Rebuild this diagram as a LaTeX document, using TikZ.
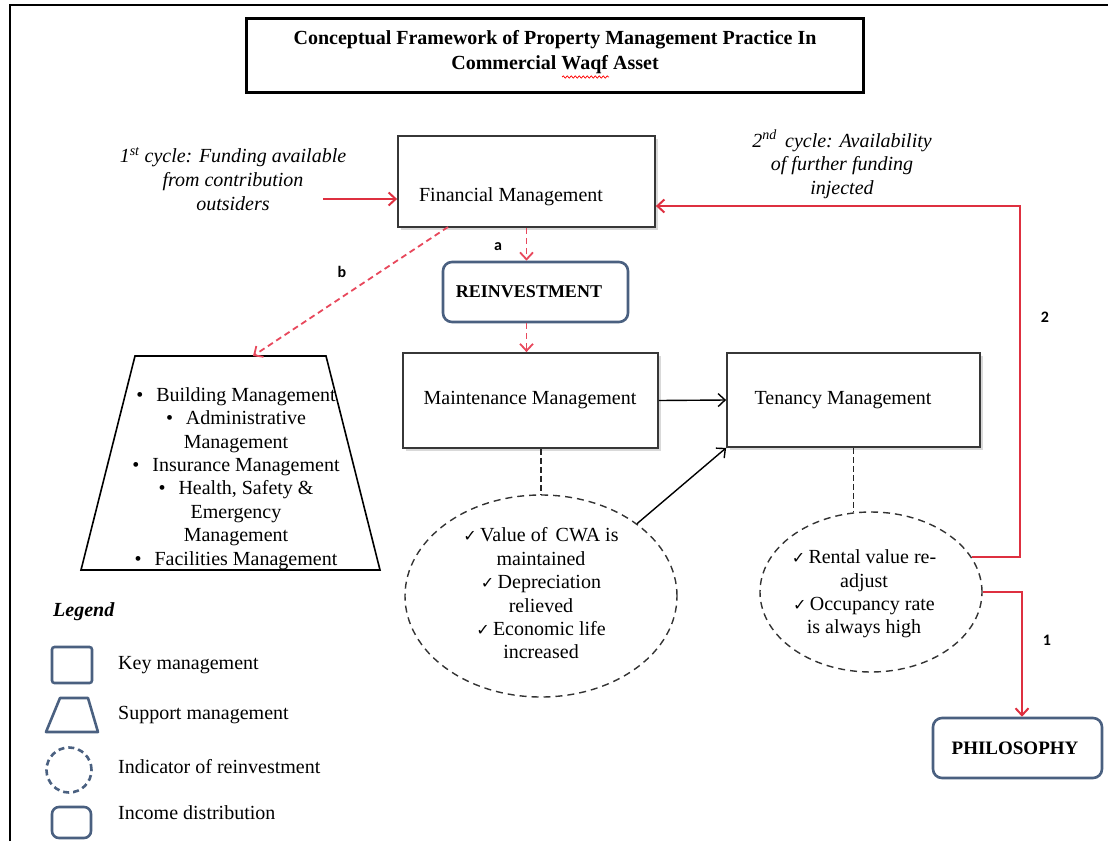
\documentclass[tikz,border=0pt]{standalone}
\usepackage{fontspec}
\setmainfont{Liberation Serif}
\newfontfamily\labelfont{Carlito}
\newfontfamily\symfont{DejaVu Sans}
\usetikzlibrary{arrows.meta,shapes.geometric,shadows,decorations.pathmorphing}

\definecolor{flowred}{RGB}{222,48,64}
\definecolor{dashred}{RGB}{232,72,92}
\definecolor{slate}{RGB}{74,96,128}
\definecolor{boxline}{RGB}{55,55,55}

\newcommand{\tick}{{\symfont\fontsize{16}{16}\selectfont ✓}\,}

\begin{document}
\begin{tikzpicture}[x=1pt,y=-1pt,
  txt/.style={font=\fontsize{20}{23.4}\selectfont, inner sep=0pt, align=center},
  boldtxt/.style={font=\bfseries\fontsize{18}{18}\selectfont, inner sep=0pt},
  tag/.style={font=\labelfont\bfseries\fontsize{16}{16}\selectfont, inner sep=0pt},
  keybox/.style={draw=boxline, line width=1.8pt, fill=white, inner sep=0pt,
    drop shadow={opacity=0.3, shadow xshift=2.5pt, shadow yshift=-2.5pt}},
  roundbox/.style={draw=slate, line width=2.6pt, rounded corners=9pt, fill=white, inner sep=0pt},
  indicator/.style={ellipse, draw=black!80, line width=1.4pt, dash pattern=on 7pt off 5pt, inner sep=0pt},
  link/.style={draw=black!85, line width=1.2pt, dash pattern=on 6pt off 3pt},
  flow/.style={draw=flowred, line width=2pt, -{Straight Barb[length=7pt,width=13pt]}},
  dflow/.style={draw=dashred, line width=1.8pt, dash pattern=on 6pt off 4pt, -{Straight Barb[length=7pt,width=13pt]}},
  blackflow/.style={draw=black, line width=1.4pt, -{Straight Barb[length=7pt,width=13pt]}},
  legendtxt/.style={font=\fontsize{20}{20}\selectfont, inner sep=0pt, anchor=west}
]
\useasboundingbox (0,0) rectangle (1108,841);

% outer frame (left and top edges)
\draw[line width=2.2pt] (10,841) -- (10,5) -- (1108,5);

% title
\node[draw, line width=3pt, minimum width=617pt, minimum height=74pt, inner sep=0pt] (title) at (554.5,55) {};
\node[txt, font=\bfseries\fontsize{20}{25}\selectfont] (titletext) at (555,52)
  {Conceptual Framework of Property Management Practice In\\Commercial Waqf Asset};
\draw[red, line width=0.7pt, decorate, decoration={snake, amplitude=1.1pt, segment length=4pt}] (562,77) -- (609,77);

% key management boxes
\node[keybox, minimum width=257pt, minimum height=91pt] (fin) at (526.5,181.5) {};
\node[txt] (fintext) at (511,197) {Financial Management};
\node[keybox, minimum width=255pt, minimum height=95pt] (mnt) at (530.5,400.5) {};
\node[txt] (mnttext) at (530,400) {Maintenance Management};
\node[keybox, minimum width=253pt, minimum height=94pt] (ten) at (853.5,400) {};
\node[txt] (tentext) at (843,400) {Tenancy Management};

% income distribution boxes
\node[roundbox, minimum width=185pt, minimum height=60pt] (reinv) at (535.5,292) {};
\node[boldtxt] (reinvtext) at (529,292) {REINVESTMENT};
\node[roundbox, minimum width=169pt, minimum height=60pt] (phil) at (1017.5,748) {};
\node[boldtxt, font=\bfseries\fontsize{19}{19}\selectfont] (philtext) at (1015,748) {PHILOSOPHY};

% support management
\draw[line width=1.6pt, line join=miter] (135,356) -- (326,356) -- (380,570) -- (81,570) -- cycle;
\coordinate (supptop) at (253,356);
\node[txt] (supptext) at (236,478.5)
  {\textbullet\hspace{13pt}Building Management\\
   \textbullet\hspace{13pt}Administrative\\
   Management\\
   \textbullet\hspace{13pt}Insurance Management\\
   \textbullet\hspace{13pt}Health, Safety \&\\
   Emergency\\
   Management\\
   \textbullet\hspace{13pt}Facilities Management};

% indicators of reinvestment
\node[indicator, minimum width=272pt, minimum height=202pt] (e1) at (541,596) {};
\node[txt] (e1text) at (541,593.5)
  {\tick Value of\, CWA is\\maintained\\\tick Depreciation\\relieved\\\tick Economic life\\increased};
\node[indicator, minimum width=222pt, minimum height=160pt] (e2) at (871,592) {};
\node[txt] (e2text) at (864,594)
  {\tick Rental value re-\\adjust\\\tick Occupancy rate\\is always high};

% funding notes
\node[txt, font=\itshape\fontsize{20}{24}\selectfont] (cycle1) at (233,179)
  {1\textsuperscript{st} cycle: Funding available\\from contribution\\outsiders};
\node[txt, font=\itshape\fontsize{20}{23.5}\selectfont] (cycle2) at (842,164.5)
  {2\textsuperscript{nd}\, cycle: Availability\\of further funding\\injected};

% connectors
\coordinate (c1start) at (323,199);
\draw[flow] (c1start) -- (c1start -| fin.west);
\coordinate (loop2) at (1020,206);
\draw[flow] (e2.19.3) -| (loop2) -- (loop2 -| fin.east);
\coordinate (loop1) at (1022,592);
\draw[flow] (e2.east) -- (loop1) -- (loop1 |- phil.north);

\draw[dflow] (fin.south) -- (fin.south |- reinv.north);
\draw[dflow] (fin.south |- reinv.south) -- (fin.south |- mnt.north);
\coordinate (bstart) at (448,227);
\draw[dflow] (bstart) -- (supptop);

\draw[blackflow] (mnt.east) -- (ten.west);
\draw[blackflow] (e1.37) -- (ten.south west);
\draw[link] (e1.north |- mnt.south) -- (e1.north);
\draw[link] (ten.south) -- (ten.south |- e2.north);

% connector tags
\node[tag] (taga) at (498,247) {a};
\node[tag] (tagb) at (342,272) {b};
\node[tag] (tag2) at (1045,317) {2};
\node[tag] (tag1) at (1047,640) {1};

% legend
\node[legendtxt, font=\bfseries\itshape\fontsize{20}{20}\selectfont] (legend) at (53,612) {Legend};
\node[draw=slate, line width=2.6pt, rounded corners=2.5pt, minimum width=40pt, minimum height=36pt, inner sep=0pt] (lkey) at (72,665) {};
\node[legendtxt] (lkeytext) at (118,665) {Key management};
\draw[slate, line width=2.6pt, line join=round] (60,698) -- (88,698) -- (98,732) -- (46,732) -- cycle;
\node[legendtxt] (lsupptext) at (118,715) {Support management};
\node[circle, draw=slate, line width=2.6pt, dash pattern=on 6pt off 4pt, minimum size=45pt, inner sep=0pt] (lind) at (69,770) {};
\node[legendtxt] (lindtext) at (118,767) {Indicator of reinvestment};
\node[draw=slate, line width=2.6pt, rounded corners=7pt, minimum width=39pt, minimum height=31pt, inner sep=0pt] (linc) at (71.5,822.5) {};
\node[legendtxt] (linctext) at (118,813) {Income distribution};
\end{tikzpicture}
\end{document}
